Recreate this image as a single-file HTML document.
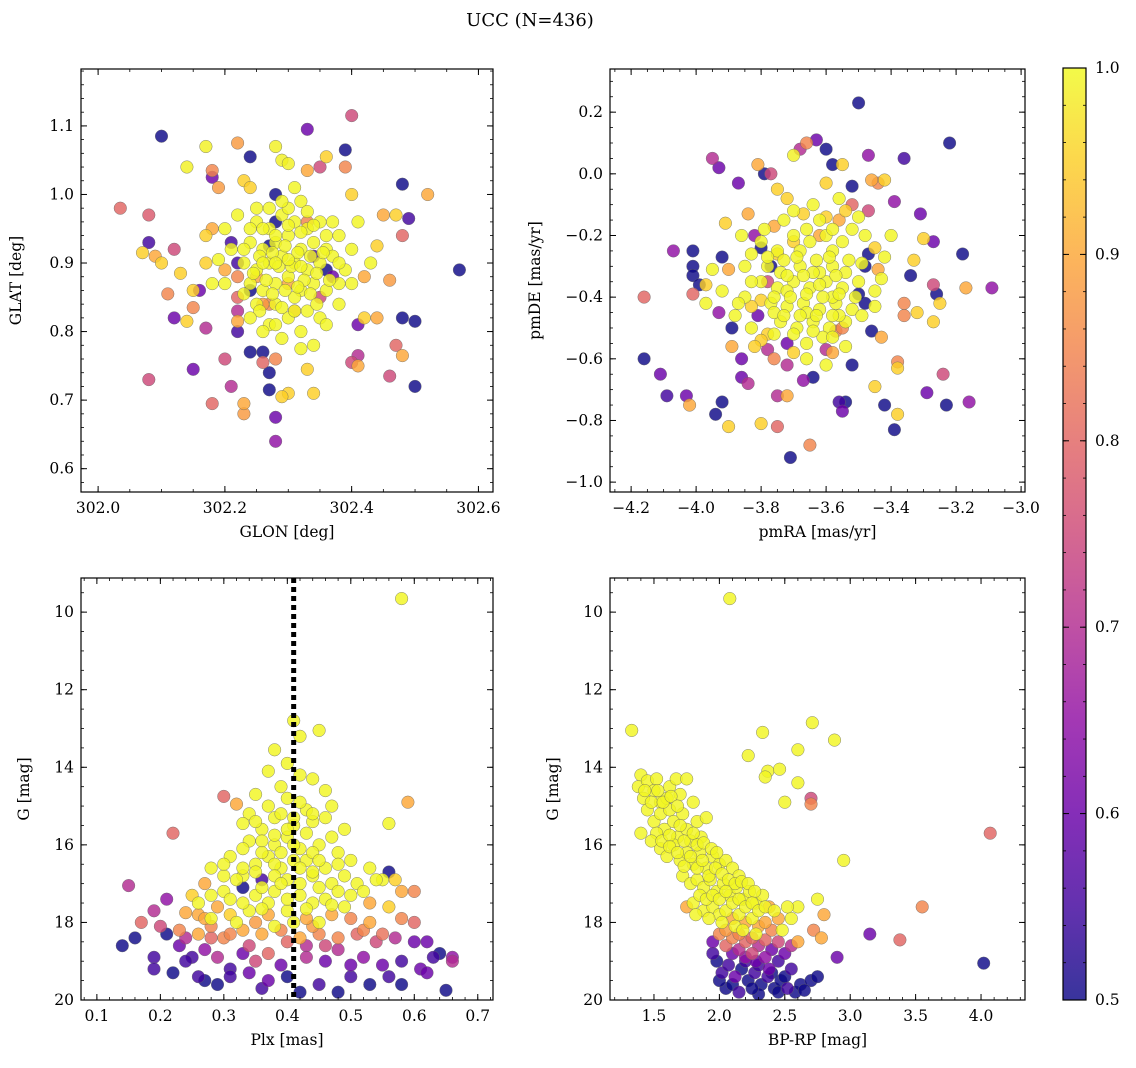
<!DOCTYPE html>
<html><head><meta charset="utf-8">
<style>
html,body{margin:0;padding:0;background:#fff;}
svg{display:block;font-family:"DejaVu Serif","Liberation Serif",serif;}
</style></head>
<body>
<svg id="fig" width="1136" height="1068" viewBox="0 0 1136 1068" xmlns="http://www.w3.org/2000/svg">
<defs>
<linearGradient id="plasma" x1="0" y1="1" x2="0" y2="0">
<stop offset="0" stop-color="#0d0887"/><stop offset="0.1" stop-color="#41049d"/><stop offset="0.2" stop-color="#6a00a8"/><stop offset="0.3" stop-color="#8f0da4"/><stop offset="0.4" stop-color="#b12a90"/><stop offset="0.5" stop-color="#cc4778"/><stop offset="0.6" stop-color="#e16462"/><stop offset="0.7" stop-color="#f2844b"/><stop offset="0.8" stop-color="#fca636"/><stop offset="0.9" stop-color="#fcce25"/><stop offset="1" stop-color="#f0f921"/>
</linearGradient>
</defs>
<text x="530" y="26" font-size="18" text-anchor="middle">UCC (N=436)</text>
</svg>
<script>
// ---- data arrays: [x, y, probability] ----
const tlPoints = [
[302.10,1.085,0.5],[302.035,0.98,0.8],[302.08,0.97,0.78],[302.08,0.93,0.55],[302.07,0.915,0.95],[302.09,0.91,0.9],[302.10,0.90,0.95],[302.08,0.73,0.75],
[302.14,1.04,0.99],[302.17,1.07,0.99],[302.18,1.035,0.85],[302.19,1.01,0.88],[302.18,1.025,0.6],[302.22,1.075,0.88],[302.24,1.055,0.5],[302.23,1.02,0.95],[302.24,1.01,0.95],
[302.28,1.00,0.5],[302.28,1.07,0.99],[302.29,1.05,0.99],[302.30,1.045,0.99],[302.33,1.095,0.6],[302.39,1.065,0.5],[302.40,1.115,0.75],[302.36,1.055,0.95],[302.35,1.04,0.75],[302.39,1.04,0.85],[302.40,1.00,0.95],[302.33,1.035,0.9],
[302.48,1.015,0.5],[302.52,1.00,0.9],[302.47,0.97,0.95],[302.49,0.965,0.55],[302.45,0.97,0.9],[302.57,0.89,0.5],[302.48,0.94,0.8],[302.44,0.925,0.95],[302.42,0.88,0.9],[302.46,0.875,0.88],
[302.48,0.82,0.5],[302.50,0.815,0.5],[302.44,0.82,0.9],[302.42,0.82,0.95],[302.41,0.81,0.6],[302.47,0.78,0.8],[302.48,0.765,0.9],[302.50,0.72,0.5],[302.46,0.735,0.75],[302.40,0.755,0.75],[302.41,0.75,0.9],[302.41,0.765,0.7],
[302.34,0.71,0.95],[302.33,0.745,0.95],[302.30,0.71,0.95],[302.29,0.705,0.95],[302.28,0.675,0.6],[302.28,0.64,0.65],[302.23,0.695,0.9],[302.23,0.68,0.88],[302.21,0.72,0.7],[302.27,0.715,0.5],[302.27,0.74,0.5],[302.26,0.755,0.8],[302.28,0.76,0.85],[302.26,0.77,0.5],[302.24,0.77,0.5],
[302.15,0.745,0.6],[302.18,0.695,0.8],[302.20,0.76,0.75],[302.17,0.805,0.7],[302.16,0.86,0.6],[302.15,0.86,0.95],[302.12,0.82,0.6],[302.14,0.815,0.95],[302.15,0.835,0.85],[302.11,0.855,0.85],[302.13,0.885,0.95],[302.12,0.92,0.75],[302.17,0.90,0.95],[302.17,0.94,0.95],[302.18,0.95,0.9],
[302.21,0.93,0.55],[302.20,0.89,0.9],[302.22,0.85,0.8],[302.22,0.83,0.7],[302.22,0.80,0.55],[302.22,0.815,0.9],
[302.28,0.96,0.5],[302.34,0.91,0.55],[302.37,0.88,0.6],[302.24,0.86,0.5],[302.31,0.83,0.85],[302.27,0.84,0.85],[302.35,0.85,0.75],[302.22,0.88,0.85],
[302.26,0.84,0.88],[302.30,0.87,0.9],[302.25,0.88,0.9],[302.33,0.96,0.85],[302.36,0.89,0.5],[302.27,0.925,0.5],[302.22,0.90,0.55]
];
const tlCore = [
[302.25,0.96],[302.27,0.95],[302.29,0.97],[302.31,0.96],[302.33,0.95],[302.35,0.96],[302.24,0.93],[302.26,0.92],[302.28,0.93],[302.30,0.94],[302.32,0.92],[302.34,0.93],[302.36,0.92],[302.38,0.94],
[302.23,0.90],[302.25,0.89],[302.27,0.90],[302.29,0.91],[302.31,0.90],[302.33,0.89],[302.35,0.90],[302.37,0.91],[302.39,0.89],[302.24,0.87],[302.26,0.86],[302.28,0.87],[302.30,0.88],[302.32,0.86],[302.34,0.87],[302.36,0.86],
[302.25,0.84],[302.28,0.84],[302.31,0.85],[302.33,0.83],[302.27,0.81],[302.30,0.82],[302.35,0.82],[302.29,0.79],[302.32,0.80],[302.30,0.98],[302.32,0.99],[302.27,0.98],[302.21,0.92],[302.20,0.87],[302.38,0.87],[302.40,0.92],[302.37,0.96],[302.22,0.97],[302.34,0.78],[302.26,0.80],
[302.26,0.95],[302.28,0.94],[302.30,0.955],[302.32,0.945],[302.34,0.955],[302.255,0.91],[302.275,0.915],[302.295,0.925],[302.315,0.915],[302.335,0.91],[302.355,0.915],[302.245,0.885],[302.265,0.875],[302.285,0.895],[302.305,0.895],[302.325,0.875],[302.345,0.885],[302.365,0.875],[302.275,0.855],[302.295,0.86],[302.315,0.865],[302.335,0.855],[302.29,0.835],[302.31,0.83],[302.255,0.83],[302.345,0.84],[302.28,0.90],[302.30,0.905],[302.32,0.895],[302.26,0.90],[302.24,0.95],[302.36,0.94],[302.38,0.90],[302.23,0.92],[302.29,0.99],[302.31,1.01],[302.33,0.975],[302.25,0.98],[302.20,0.95],[302.19,0.905],[302.40,0.87],[302.38,0.84],[302.36,0.81],[302.32,0.775],[302.28,0.81],[302.24,0.82],[302.23,0.855],[302.41,0.96],[302.43,0.90],[302.18,0.87]
];
const trPoints = [
[-3.50,0.23,0.5],[-3.22,0.10,0.5],[-3.63,0.11,0.6],[-3.66,0.10,0.85],[-3.70,0.06,0.99],[-3.68,0.08,0.7],[-3.60,0.08,0.5],[-3.58,0.03,0.5],[-3.55,0.03,0.95],[-3.47,0.06,0.65],[-3.36,0.05,0.55],[-3.81,0.03,0.9],[-3.79,0.00,0.5],[-3.77,0.00,0.75],[-3.95,0.05,0.7],[-3.93,0.02,0.6],[-3.87,-0.03,0.6],[-3.75,-0.05,0.95],[-3.60,-0.03,0.95],[-3.52,-0.04,0.5],[-3.46,-0.02,0.9],[-3.42,-0.02,0.95],[-3.44,-0.03,0.85],[-3.39,-0.09,0.65],[-3.31,-0.13,0.6],[-3.30,-0.21,0.95],[-3.27,-0.22,0.6],
[-3.18,-0.26,0.5],[-3.33,-0.28,0.95],[-3.34,-0.33,0.5],[-3.27,-0.36,0.75],[-3.17,-0.37,0.9],[-3.09,-0.37,0.65],[-3.26,-0.39,0.5],[-3.25,-0.42,0.95],[-3.27,-0.48,0.95],[-3.32,-0.45,0.95],[-3.36,-0.46,0.85],[-3.36,-0.42,0.85],[-3.43,-0.53,0.9],[-3.38,-0.61,0.85],[-3.38,-0.63,0.95],[-3.24,-0.65,0.75],[-3.29,-0.71,0.6],[-3.23,-0.75,0.5],[-3.16,-0.74,0.65],[-3.38,-0.78,0.95],[-3.39,-0.83,0.5],[-3.42,-0.75,0.5],[-3.45,-0.69,0.95],[-3.52,-0.62,0.5],[-3.54,-0.74,0.5],[-3.56,-0.74,0.55],[-3.55,-0.77,0.6],[-3.71,-0.92,0.5],[-3.65,-0.88,0.85],[-3.72,-0.72,0.9],[-3.75,-0.72,0.7],[-3.64,-0.66,0.5],[-3.67,-0.67,0.65],[-3.75,-0.82,0.8],[-3.80,-0.81,0.95],[-3.90,-0.82,0.95],[-3.92,-0.74,0.5],[-3.94,-0.78,0.5],[-4.02,-0.75,0.9],[-4.03,-0.72,0.6],[-4.09,-0.72,0.55],[-4.11,-0.65,0.6],[-4.16,-0.60,0.5],[-4.16,-0.40,0.8],[-4.07,-0.25,0.65],[-4.01,-0.25,0.5],[-4.01,-0.30,0.5],[-4.01,-0.33,0.5],[-3.99,-0.36,0.5],[-4.01,-0.39,0.8],[-3.97,-0.36,0.95],[-3.91,-0.16,0.95],[-3.92,-0.27,0.5],[-3.90,-0.31,0.9],[-3.93,-0.45,0.65],[-3.89,-0.50,0.5],[-3.86,-0.60,0.6],[-3.86,-0.66,0.6],[-3.84,-0.68,0.7],[-3.89,-0.56,0.9],[-3.84,-0.13,0.9],[-3.82,-0.20,0.65],[-3.80,-0.24,0.5],[-3.77,-0.30,0.5],[-3.78,-0.35,0.75],[-3.80,-0.41,0.95],[-3.83,-0.43,0.95],[-3.81,-0.46,0.6],[-3.78,-0.52,0.95],[-3.80,-0.54,0.95],[-3.78,-0.57,0.7],[-3.82,-0.56,0.95],[-3.76,-0.60,0.85],[-3.70,-0.58,0.95],[-3.72,-0.55,0.6],[-3.72,-0.62,0.7],[-3.60,-0.57,0.7],[-3.58,-0.58,0.9],[-3.57,-0.51,0.85],[-3.55,-0.50,0.85],[-3.46,-0.51,0.5],[-3.48,-0.42,0.5],[-3.50,-0.39,0.5],[-3.48,-0.30,0.5],[-3.47,-0.26,0.5],[-3.45,-0.24,0.95],[-3.44,-0.31,0.9],[-3.47,-0.12,0.75],[-3.52,-0.10,0.8],[-3.54,-0.12,0.95],[-3.56,-0.15,0.9],[-3.60,-0.14,0.95],[-3.62,-0.20,0.9],[-3.67,-0.13,0.95],[-3.72,-0.08,0.95],[-3.76,-0.17,0.9],[-3.70,-0.22,0.95],[-3.75,-0.26,0.95]
];
const trCore = [
[-3.80,-0.22],[-3.75,-0.25],[-3.70,-0.20],[-3.65,-0.22],[-3.60,-0.20],[-3.55,-0.22],[-3.78,-0.30],[-3.73,-0.28],[-3.68,-0.30],[-3.63,-0.28],[-3.58,-0.30],[-3.53,-0.28],[-3.80,-0.35],[-3.75,-0.37],[-3.70,-0.35],[-3.65,-0.37],[-3.60,-0.35],[-3.55,-0.37],[-3.50,-0.35],[-3.77,-0.42],[-3.72,-0.43],[-3.67,-0.42],[-3.62,-0.44],[-3.57,-0.42],[-3.52,-0.44],[-3.74,-0.48],[-3.69,-0.50],[-3.64,-0.48],[-3.59,-0.50],[-3.54,-0.48],[-3.66,-0.55],[-3.61,-0.53],[-3.68,-0.25],[-3.62,-0.32],[-3.72,-0.38],[-3.58,-0.40],[-3.85,-0.30],[-3.85,-0.40],[-3.45,-0.38],[-3.48,-0.20],[-3.62,-0.15],[-3.70,-0.12],[-3.58,-0.25],[-3.66,-0.45],[-3.76,-0.45],[-3.56,-0.46],[-3.92,-0.38],[-3.88,-0.46],
[-3.78,-0.27],[-3.74,-0.32],[-3.69,-0.27],[-3.64,-0.32],[-3.59,-0.27],[-3.54,-0.32],[-3.49,-0.29],[-3.76,-0.40],[-3.71,-0.40],[-3.66,-0.39],[-3.61,-0.40],[-3.56,-0.39],[-3.51,-0.40],[-3.73,-0.46],[-3.68,-0.46],[-3.63,-0.46],[-3.58,-0.46],[-3.70,-0.52],[-3.64,-0.51],[-3.58,-0.53],[-3.67,-0.33],[-3.62,-0.36],[-3.57,-0.33],[-3.72,-0.33],[-3.66,-0.18],[-3.58,-0.18],[-3.52,-0.18],[-3.79,-0.18],[-3.83,-0.26],[-3.83,-0.35],[-3.87,-0.42],[-3.83,-0.50],[-3.49,-0.46],[-3.45,-0.43],[-3.43,-0.34],[-3.42,-0.27],[-3.40,-0.20],[-3.50,-0.14],[-3.76,-0.52],[-3.66,-0.60],[-3.60,-0.62],[-3.54,-0.56],[-3.95,-0.31],[-3.97,-0.42],[-3.86,-0.20],[-3.73,-0.15],[-3.64,-0.10],[-3.56,-0.08]
];
const blPoints = [
[0.30,14.75,0.8],[0.32,14.95,0.9],[0.59,14.9,0.9],[0.22,15.7,0.8],[0.36,16.9,0.55],[0.56,16.7,0.5],[0.57,16.9,0.95],[0.58,17.2,0.9],[0.60,17.2,0.85],[0.27,17.0,0.9],[0.25,17.3,0.95],[0.33,17.1,0.5],[0.53,17.5,0.9],[0.56,17.6,0.95],
[0.24,17.75,0.9],[0.26,17.8,0.9],[0.29,17.6,0.9],[0.31,17.8,0.95],[0.37,17.8,0.9],[0.43,17.9,0.9],[0.47,17.8,0.9],[0.50,17.9,0.85],[0.53,18.0,0.9],[0.58,17.9,0.85],[0.60,18.0,0.8],[0.15,17.05,0.7],[0.17,18.0,0.8],[0.19,17.7,0.7],[0.21,17.4,0.65],[0.20,18.1,0.75],[0.23,18.2,0.85],[0.26,18.3,0.9],[0.28,18.1,0.85],[0.30,18.4,0.85],[0.33,18.2,0.9],[0.36,18.3,0.9],[0.39,18.2,0.85],[0.42,18.4,0.9],[0.45,18.3,0.85],[0.48,18.4,0.85],[0.51,18.3,0.8],[0.54,18.5,0.75],[0.57,18.4,0.7],[0.60,18.5,0.6],[0.62,18.5,0.6],
[0.27,17.9,0.9],[0.35,18.0,0.88],[0.44,18.1,0.88],[0.52,18.2,0.85],[0.31,18.3,0.85],[0.40,18.5,0.8],[0.46,18.6,0.75],[0.28,18.4,0.8],[0.55,18.3,0.82],[0.24,18.4,0.7],[0.34,18.6,0.75],[0.43,18.6,0.7],
[0.14,18.6,0.5],[0.16,18.4,0.5],[0.19,18.9,0.55],[0.21,18.3,0.5],[0.23,18.6,0.6],[0.25,18.9,0.55],[0.27,18.7,0.65],[0.29,18.9,0.7],[0.31,19.2,0.55],[0.33,18.8,0.6],[0.35,19.0,0.75],[0.37,18.8,0.8],[0.39,19.1,0.6],[0.43,18.9,0.7],[0.46,19.0,0.6],[0.48,18.7,0.7],[0.50,19.1,0.6],[0.52,18.9,0.65],[0.55,19.1,0.6],[0.58,19.0,0.55],[0.61,19.2,0.6],[0.63,18.9,0.55],[0.66,18.9,0.65],[0.64,18.8,0.5],[0.66,19.0,0.7],[0.19,19.2,0.55],[0.22,19.3,0.5],[0.24,19.0,0.55],[0.26,19.4,0.55],[0.27,19.5,0.5],[0.31,19.4,0.55],[0.34,19.3,0.6],[0.37,19.5,0.6],[0.40,19.4,0.5],[0.45,19.6,0.55],[0.48,19.8,0.5],[0.50,19.4,0.55],[0.53,19.6,0.5],[0.56,19.4,0.55],[0.58,19.6,0.5],[0.62,19.3,0.6],[0.65,19.75,0.5],[0.42,19.8,0.5],[0.36,19.7,0.55],[0.29,19.6,0.5]
];
const blCore = [
[0.58,9.65],[0.41,12.8],[0.42,13.2],[0.45,13.05],[0.38,13.55],[0.40,13.9],[0.37,14.1],[0.42,14.2],[0.44,14.3],[0.46,14.6],[0.39,14.5],[0.35,14.7],[0.34,15.2],[0.38,15.3],[0.43,15.1],[0.47,15.0],[0.33,15.45],[0.36,15.6],[0.41,15.5],[0.44,15.4],[0.49,15.6],[0.56,15.45],
[0.34,15.9],[0.38,16.0],[0.40,15.8],[0.42,16.1],[0.45,16.0],[0.48,16.2],[0.31,16.3],[0.35,16.5],[0.37,16.3],[0.39,16.6],[0.43,16.4],[0.46,16.6],[0.50,16.4],[0.53,16.6],[0.28,16.6],[0.30,16.8],[0.33,16.8],[0.40,16.9],[0.44,16.8],[0.47,17.0],[0.51,17.0],[0.55,16.9],[0.30,17.2],[0.35,17.3],[0.38,17.2],[0.42,17.3],[0.46,17.4],[0.50,17.3],[0.34,17.7],[0.40,17.7],
[0.40,14.8],[0.42,14.9],[0.44,15.2],[0.37,15.0],[0.39,15.2],[0.41,15.3],[0.35,15.4],[0.46,15.3],[0.40,15.6],[0.43,15.7],[0.38,15.75],[0.36,15.9],[0.47,15.8],[0.41,16.0],[0.44,16.2],[0.39,16.2],[0.36,16.2],[0.33,16.1],[0.41,16.4],[0.45,16.4],[0.48,16.5],[0.38,16.5],[0.33,16.6],[0.30,16.5],[0.42,16.6],[0.44,16.7],[0.49,16.8],[0.38,16.8],[0.35,16.7],[0.32,16.9],[0.42,17.0],[0.45,17.1],[0.39,17.0],[0.36,17.1],[0.48,17.2],[0.52,17.2],[0.54,16.9],[0.31,17.4],[0.28,17.3],[0.40,17.4],[0.44,17.5],[0.37,17.5],[0.33,17.5],[0.49,17.6],[0.26,17.5],[0.43,17.65],[0.47,17.55],[0.36,17.65],[0.41,18.0],[0.45,18.0],[0.38,18.1],[0.32,18.0],[0.28,17.9]
];
const brPoints = [
[2.70,14.8,0.75],[2.70,14.95,0.85],[2.38,17.6,0.9],[1.75,17.6,0.9],[2.10,17.9,0.9],[2.20,18.0,0.9],[2.30,18.1,0.9],[2.35,18.0,0.9],[2.40,18.2,0.85],[2.45,17.9,0.9],[2.80,17.8,0.9],[2.72,18.2,0.85],[2.78,18.4,0.9],[2.60,18.5,0.9],[2.90,18.9,0.6],[3.15,18.3,0.6],[3.38,18.45,0.8],[3.55,17.6,0.85],[4.07,15.7,0.8],[4.02,19.05,0.5],
[1.95,18.5,0.6],[2.00,18.3,0.85],[2.05,18.6,0.8],[2.10,18.4,0.85],[2.15,18.7,0.7],[2.20,18.5,0.8],[2.25,18.8,0.75],[2.30,18.6,0.7],[2.35,18.9,0.65],[2.40,18.7,0.6],[2.45,19.0,0.55],[2.50,18.8,0.6],[2.55,19.2,0.55],[1.98,19.0,0.5],[2.02,19.3,0.55],[2.07,19.1,0.55],[2.12,19.4,0.6],[2.17,19.2,0.5],[2.22,19.5,0.5],[2.27,19.3,0.55],[2.32,19.6,0.5],[2.37,19.4,0.55],[2.42,19.7,0.5],[2.47,19.5,0.5],[2.52,19.7,0.55],[2.58,19.8,0.5],[2.62,19.6,0.5],[2.70,19.5,0.5],[2.75,19.4,0.5],[2.05,19.7,0.5],[2.15,19.8,0.55],[2.30,19.85,0.5],[1.95,18.8,0.55],[2.28,19.0,0.6],[2.38,19.2,0.6],
[2.05,18.2,0.88],[2.15,18.3,0.85],[2.25,18.4,0.8],[2.35,18.45,0.8],[2.45,18.5,0.75],[2.55,18.6,0.7],[2.10,18.8,0.6],[2.20,19.0,0.55],[2.30,19.1,0.55],[2.40,19.3,0.5],[2.00,19.5,0.5],[2.10,19.6,0.5],[2.25,19.7,0.5],[2.45,19.8,0.5],[2.65,19.75,0.5],[2.20,18.9,0.65],[2.50,19.4,0.5]
];
const brCore = [
[2.08,9.65],[1.33,13.05],[2.33,13.1],[2.71,12.85],[2.88,13.3],[2.22,13.7],[2.60,13.55],[2.37,14.1],[2.35,14.25],[2.46,14.05],[2.60,14.4],[2.50,14.9],[2.95,16.4],
[1.40,14.2],[1.38,14.5],[1.45,14.35],[1.42,14.8],[1.52,14.3],[1.50,14.6],[1.55,14.9],[1.62,14.5],[1.60,14.8],[1.67,14.3],[1.70,14.7],[1.75,14.3],[1.80,14.9],[1.45,15.1],[1.40,15.7],[1.50,15.4],[1.55,15.2],[1.58,15.6],[1.62,15.1],[1.65,15.4],[1.68,15.8],[1.72,15.2],[1.75,15.6],[1.78,15.9],[1.83,15.4],[1.86,15.8],[1.90,15.3],
[1.55,16.1],[1.60,16.3],[1.65,16.0],[1.70,16.4],[1.75,16.2],[1.80,16.5],[1.85,16.2],[1.90,16.6],[1.95,16.3],[2.00,16.5],[2.05,16.4],[2.10,16.6],[2.15,16.8],[1.72,16.8],[1.78,17.0],[1.83,16.9],[1.88,17.1],[1.93,16.9],[1.98,17.2],[2.03,17.0],[2.08,17.3],[2.13,17.1],[2.18,17.4],[2.23,17.2],[2.28,17.5],[2.33,17.3],
[1.80,17.5],[1.88,17.7],[1.95,17.6],[2.00,17.8],[2.05,17.7],[2.15,17.8],[2.25,17.9],[2.55,17.9],[2.60,17.6],[2.75,17.4],
[1.43,14.6],[1.48,14.9],[1.53,14.6],[1.57,14.9],[1.63,14.75],[1.68,15.0],[1.52,15.7],[1.48,15.9],[1.56,15.9],[1.62,15.75],[1.70,15.5],[1.73,15.9],[1.80,15.7],[1.83,16.0],[1.88,15.95],[1.94,16.1],[1.98,16.2],[1.62,16.05],[1.68,16.2],[1.73,16.55],[1.78,16.3],[1.83,16.6],[1.87,16.4],[1.92,16.8],[1.97,16.6],[2.02,16.75],[2.07,16.9],[2.12,17.0],[2.17,16.95],[2.22,17.0],[2.27,17.2],[1.85,17.3],[1.90,17.4],[1.95,17.3],[2.00,17.4],[2.05,17.2],[2.10,17.5],[2.15,17.4],[2.20,17.6],[2.25,17.5],[2.30,17.7],[2.35,17.6],[1.82,17.8],[1.92,17.9],[2.02,18.0],[2.12,18.1],[2.18,18.2],[2.28,18.3],[2.48,18.2],[2.52,17.6],[2.42,17.7]
];
const coreProb = 0.995;
const tlXTicks = [302.0,302.2,302.4,302.6];
const tlYTicks = [0.6,0.7,0.8,0.9,1.0,1.1];
const trXTicks = [-4.2,-4.0,-3.8,-3.6,-3.4,-3.2,-3.0];
const trYTicks = [-1.0,-0.8,-0.6,-0.4,-0.2,0.0,0.2];
const blXTicks = [0.1,0.2,0.3,0.4,0.5,0.6,0.7];
const gTicks = [10,12,14,16,18,20];
const brXTicks = [1.5,2.0,2.5,3.0,3.5,4.0];
const cbTicks = [0.5,0.6,0.7,0.8,0.9,1.0];
const plxLine = 0.41;

const NS="http://www.w3.org/2000/svg";
const svg=document.getElementById('fig');
function mk(tag,attrs,parent){const e=document.createElementNS(NS,tag);for(const k in attrs)e.setAttribute(k,attrs[k]);(parent||svg).appendChild(e);return e;}

const stops=[[0,[13,8,135]],[0.1,[65,4,157]],[0.2,[106,0,168]],[0.3,[143,13,164]],[0.4,[177,42,144]],[0.5,[204,71,120]],[0.6,[225,100,98]],[0.7,[242,132,75]],[0.8,[252,166,54]],[0.9,[252,206,37]],[1,[240,249,33]]];
function plasma(p){let t=(p-0.5)/0.5;t=Math.max(0,Math.min(1,t));for(let i=1;i<stops.length;i++){if(t<=stops[i][0]){const a=stops[i-1],b=stops[i];const f=(t-a[0])/(b[0]-a[0]);const c=a[1].map((v,j)=>Math.round(v+(b[1][j]-v)*f));return `rgb(${c[0]},${c[1]},${c[2]})`;}}return 'rgb(240,249,33)';}

function fmt(v,d){return v.toFixed(d).replace('-','\u2212');}

function panel(o){
  const g=mk('g',{});
  
  
  const sx=v=>o.x0+(v-o.xmin)/(o.xmax-o.xmin)*(o.x1-o.x0);
  const sy=o.invert? (v=>o.y0+(v-o.ymin)/(o.ymax-o.ymin)*(o.y1-o.y0)) : (v=>o.y1-(v-o.ymin)/(o.ymax-o.ymin)*(o.y1-o.y0));
  const clip=mk('clipPath',{id:'c_'+o.name},g);
  mk('rect',{x:o.x0,y:o.y0,width:o.x1-o.x0,height:o.y1-o.y0},clip);
  const pg=mk('g',{'clip-path':`url(#c_${o.name})`},g);
  
  
  const all=o.data.concat(o.core.map(d=>[d[0],d[1],coreProb]));
  const pts=all.sort((a,b)=>a[2]-b[2]);
  pts.forEach(d=>{
    const c=mk('circle',{cx:sx(d[0]).toFixed(1),cy:sy(d[1]).toFixed(1),r:6.3,fill:plasma(d[2]),'fill-opacity':0.82,stroke:'#666','stroke-width':0.5,'stroke-opacity':0.8},pg);
    
    
  });
  if(o.vline!==undefined){
    const l=mk('line',{x1:sx(o.vline),x2:sx(o.vline),y1:o.y0,y2:o.y1,stroke:'#000','stroke-width':5,'stroke-dasharray':'5,4'},pg);
    
    
  }
  const fr=mk('rect',{x:o.x0,y:o.y0,width:o.x1-o.x0,height:o.y1-o.y0,fill:'none',stroke:'#000','stroke-width':1.2},g);
  
  
  const xStep=o.xt[1]-o.xt[0];
  for(let v=o.xt[0]-xStep;v<=o.xt[o.xt.length-1]+xStep+1e-9;v+=xStep/o.xm){
    const X=sx(v); if(X<o.x0-0.5||X>o.x1+0.5)continue;
    mk('line',{x1:X,x2:X,y1:o.y1,y2:o.y1-3,stroke:'#000','stroke-width':0.8},g);
    mk('line',{x1:X,x2:X,y1:o.y0,y2:o.y0+3,stroke:'#000','stroke-width':0.8},g);
  }
  o.xt.forEach(v=>{const X=sx(v);
    mk('line',{x1:X,x2:X,y1:o.y1,y2:o.y1-6,stroke:'#000','stroke-width':1},g);
    mk('line',{x1:X,x2:X,y1:o.y0,y2:o.y0+6,stroke:'#000','stroke-width':1},g);
    const t=mk('text',{x:X,y:o.y1+21,'font-size':15.5,'text-anchor':'middle'},g);t.textContent=fmt(v,o.xd);
    
    
  });
  const yStep=o.yt[1]-o.yt[0];
  for(let v=o.yt[0]-yStep;v<=o.yt[o.yt.length-1]+yStep+1e-9;v+=yStep/o.ym){
    const Y=sy(v); if(Y<o.y0-0.5||Y>o.y1+0.5)continue;
    mk('line',{x1:o.x0,x2:o.x0+3,y1:Y,y2:Y,stroke:'#000','stroke-width':0.8},g);
    mk('line',{x1:o.x1,x2:o.x1-3,y1:Y,y2:Y,stroke:'#000','stroke-width':0.8},g);
  }
  o.yt.forEach(v=>{const Y=sy(v);
    mk('line',{x1:o.x0,x2:o.x0+6,y1:Y,y2:Y,stroke:'#000','stroke-width':1},g);
    mk('line',{x1:o.x1,x2:o.x1-6,y1:Y,y2:Y,stroke:'#000','stroke-width':1},g);
    const t=mk('text',{x:o.x0-7,y:Y+5,'font-size':15.5,'text-anchor':'end'},g);t.textContent=fmt(v,o.yd);
    
    
  });
  const xl=mk('text',{x:(o.x0+o.x1)/2,y:o.y1+45,'font-size':15.5,'text-anchor':'middle'},g);xl.textContent=o.xlabel;
  
  
  const yc=(o.y0+o.y1)/2, yx=o.x0-o.ylOff;
  const yl=mk('text',{x:yx,y:yc,'font-size':15.5,'text-anchor':'middle',transform:`rotate(-90 ${yx} ${yc})`},g);yl.textContent=o.ylabel;
  
  
}

panel({name:'glon-glat-panel',data:tlPoints,core:tlCore,x0:81,x1:493,y0:69,y1:492,xmin:301.973,xmax:302.623,ymin:0.566,ymax:1.183,xt:tlXTicks,yt:tlYTicks,xm:4,ym:5,xd:1,yd:1,xlabel:'GLON [deg]',ylabel:'GLAT [deg]',ylOff:60});
panel({name:'pm-panel',data:trPoints,core:trCore,x0:610,x1:1025,y0:69,y1:492,xmin:-4.265,xmax:-2.988,ymin:-1.032,ymax:0.34,xt:trXTicks,yt:trYTicks,xm:4,ym:4,xd:1,yd:1,xlabel:'pmRA [mas/yr]',ylabel:'pmDE [mas/yr]',ylOff:70});
panel({name:'plx-g-panel',data:blPoints,core:blCore,x0:81,x1:493,y0:578,y1:1000,xmin:0.075,xmax:0.724,ymin:9.12,ymax:20,invert:true,xt:blXTicks,yt:gTicks,xm:5,ym:4,xd:1,yd:0,xlabel:'Plx [mas]',ylabel:'G [mag]',ylOff:52,vline:plxLine});
panel({name:'cmd-panel',data:brPoints,core:brCore,x0:610,x1:1025,y0:578,y1:1000,xmin:1.164,xmax:4.336,ymin:9.12,ymax:20,invert:true,xt:brXTicks,yt:gTicks,xm:5,ym:4,xd:1,yd:0,xlabel:'BP-RP [mag]',ylabel:'G [mag]',ylOff:52});

const cb=mk('g',{});


const cx0=1063,cx1=1086,cy0=68,cy1=1000;
mk('rect',{x:cx0,y:cy0,width:cx1-cx0,height:cy1-cy0,fill:'url(#plasma)','fill-opacity':0.82},cb);
mk('rect',{x:cx0,y:cy0,width:cx1-cx0,height:cy1-cy0,fill:'none',stroke:'#000','stroke-width':1.2},cb);
const cy=v=>cy1-(v-0.5)/0.5*(cy1-cy0);
for(let v=0.5;v<=1.0001;v+=0.02){const Y=cy(v);
  mk('line',{x1:cx1,x2:cx1-3,y1:Y,y2:Y,stroke:'#000','stroke-width':0.8},cb);
  mk('line',{x1:cx0,x2:cx0+3,y1:Y,y2:Y,stroke:'#000','stroke-width':0.8},cb);}
cbTicks.forEach(v=>{const Y=cy(v);
  mk('line',{x1:cx1,x2:cx1-6,y1:Y,y2:Y,stroke:'#000','stroke-width':1},cb);
  mk('line',{x1:cx0,x2:cx0+6,y1:Y,y2:Y,stroke:'#000','stroke-width':1},cb);
  const t=mk('text',{x:cx1+9,y:Y+5,'font-size':15.5},cb);t.textContent=v.toFixed(1);
  
  
});
</script>
</body></html>
